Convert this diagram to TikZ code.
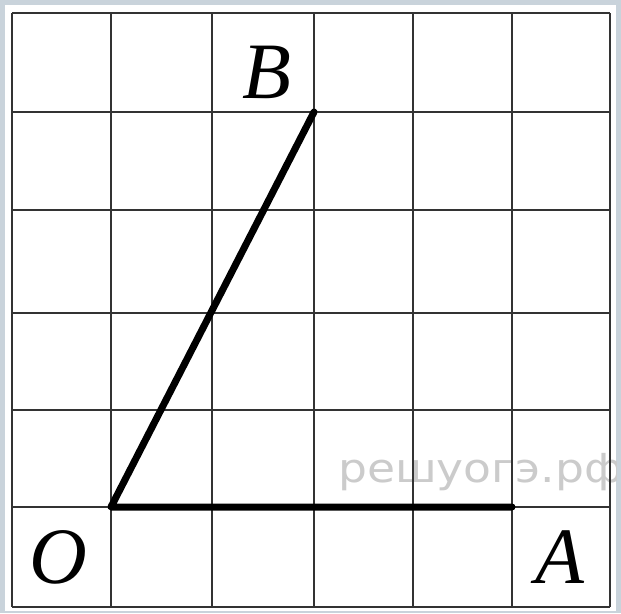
\documentclass[tikz,border=0pt]{standalone}
\usepackage{fontspec}
\setmainfont{Liberation Serif}
\newfontfamily\wmfont{DejaVu Sans}
\definecolor{framebg}{HTML}{C9D3DB}
\definecolor{gridc}{HTML}{333333}
\definecolor{wmc}{HTML}{CBCBCB}
\tikzset{
  gridline/.style={draw=gridc, line width=2.8pt},
  seg/.style={draw=black, line width=7pt, line cap=round, line join=round},
  lbl/.style={font=\fontsize{80}{80}\selectfont\itshape, inner sep=0pt},
  wm/.style={font=\wmfont\fontsize{40}{40}\selectfont, text=wmc, anchor=base west, inner sep=0pt, xscale=1.14}
}
\begin{document}
\begin{tikzpicture}[x=1pt,y=-1pt]
\useasboundingbox (0,0) rectangle (621,613);
\fill[framebg] (0,0) rectangle (621,613);
\fill[white] (5,5) rectangle (616,611);
\begin{scope}
\clip (5,5) rectangle (616,611);
\node[wm] (wm) at (338,482) {решуогэ.рф};
\end{scope}
% grid
\foreach \x in {12,111,212,314,413,512,610} {
  \draw[gridline] (\x,13) -- (\x,607);
}
\foreach \y in {13,112,210,313,410,507,607} {
  \draw[gridline] (12,\y) -- (610,\y);
}
\coordinate (O) at (111,507);
\coordinate (A) at (512,507);
\coordinate (B) at (314,112);
\draw[seg] (A) -- (O) -- (B);
\node[lbl] (lB) at (267,72) {B};
\node[lbl] (lO) at (58,557) {O};
\node[lbl] (lA) at (560,557) {A};
\end{tikzpicture}
\end{document}
